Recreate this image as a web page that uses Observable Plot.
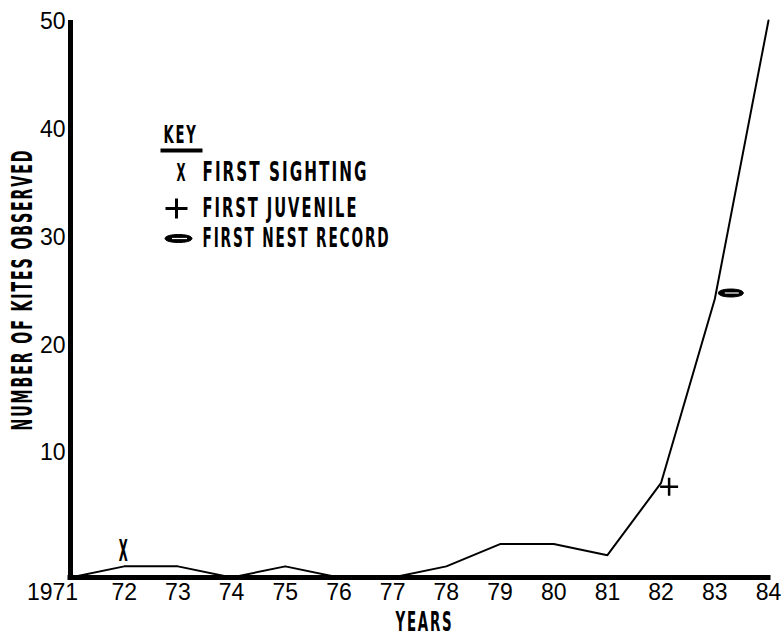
<!DOCTYPE html>
<html><head><meta charset="utf-8">
<script src="https://cdn.jsdelivr.net/npm/d3@7"></script>
<script src="https://cdn.jsdelivr.net/npm/@observablehq/plot@0.6"></script>
<style>
html,body{margin:0;padding:0;background:#fff;}
svg{display:block;}
</style></head><body><div id="chart"></div>
<script>
// ---- data ----
const years = [1971,1972,1973,1974,1975,1976,1977,1978,1979,1980,1981,1982,1983,1984];
const kites = [0,1,1,0,1,0,0,1,3,3,2,8.5,25,50];
const xTickLabels = ["1971","72","73","74","75","76","77","78","79","80","81","82","83","84"];
const yTicks = [10,20,30,40,50];
const keyLabels = ["FIRST SIGHTING","FIRST JUVENILE","FIRST NEST RECORD"];
const eventYears = {sighting:1972, juvenile:1982, nest:1983};
const yTitle = "NUMBER OF KITES OBSERVED";
const xTitle = "YEARS";
const keyTitle = "KEY";

const data = years.map((year,i)=>({year, kites:kites[i], label:xTickLabels[i]}));
const at = y => data.filter(d=>d.year===y);

// ---- custom symbols ----
const plusSym = (w,h)=>({draw(ctx){ctx.moveTo(-w/2,0);ctx.lineTo(w/2,0);ctx.moveTo(0,-h/2);ctx.lineTo(0,h/2);}});
const ovalSym = (w,h)=>({draw(ctx){const k=h/2*1.33;ctx.moveTo(-w/2,0);ctx.bezierCurveTo(-w/2,-k,w/2,-k,w/2,0);ctx.bezierCurveTo(w/2,k,-w/2,k,-w/2,0);ctx.closePath();}});
const barSym = (w,h)=>({draw(ctx){ctx.rect(-w/2,-h/2,w,h);}});

const cond = {fontFamily:"'Liberation Sans Narrow','DejaVu Sans Condensed','Liberation Sans',sans-serif", fontWeight:"bold", fill:"black", textAnchor:"start"};
const num = {fontFamily:"'Liberation Sans',Arial,sans-serif", fill:"black"};

// widths (px) the condensed lettering is fitted to
const fitWidths = {"KEY":34, "FIRST SIGHTING":166, "FIRST JUVENILE":156, "FIRST NEST RECORD":188, "YEARS":58, "NUMBER OF KITES OBSERVED":282, "X":9};
const keyRowDy = [152, 188, 218];

const chart = Plot.plot({
  width:781, height:637,
  marginLeft:70, marginRight:13, marginTop:20, marginBottom:60,
  x:{domain:[1971,1984], axis:null},
  y:{domain:[0,50], axis:null},
  marks:[
    // data line
    Plot.line(data,{x:"year", y:"kites", stroke:"black", strokeWidth:2, strokeLinejoin:"round"}),
    // axes lines
    Plot.ruleY([0],{stroke:"black", strokeWidth:5, strokeLinecap:"square"}),
    Plot.ruleX([1971],{stroke:"black", strokeWidth:5}),
    // x tick labels
    Plot.text(data.filter(d=>d.year!==1971),{x:"year", y:()=>0, text:"label", dy:15.5, lineAnchor:"middle", fontSize:23, ...num}),
    Plot.text(data.filter(d=>d.year===1971),{x:"year", y:()=>0, text:"label", dy:15.5, dx:-18, lineAnchor:"middle", fontSize:23, ...num}),
    // y tick labels (hand-lettered, drifting slightly above their ticks toward the bottom)
    ...yTicks.map(v => Plot.text([v],{x:()=>1971, y:d=>d, text:d=>String(d), textAnchor:"end", dx:-5, dy:-13 + (v-10)*0.35, lineAnchor:"middle", fontSize:23, ...num})),
    // axis titles
    Plot.text([xTitle],{frameAnchor:"bottom", text:d=>d, dx:-24, dy:44.4, lineAnchor:"middle", fontSize:27, ...cond}),
    Plot.text([yTitle],{frameAnchor:"left", text:d=>d, rotate:-90, dx:-47, dy:131.5, lineAnchor:"middle", fontSize:28, ...cond}),
    // event markers on line
    Plot.text(at(eventYears.sighting),{x:"year", y:"kites", text:()=>"X", dx:-5.5, dy:-15, lineAnchor:"middle", fontSize:31, ...cond}),
    Plot.dot(at(eventYears.juvenile),{x:"year", y:"kites", symbol:plusSym(18,18), r:5, dx:8, dy:4, fill:"none", stroke:"black", strokeWidth:2.5}),
    Plot.dot(at(eventYears.nest),{x:"year", y:"kites", symbol:ovalSym(25,8), r:5, dx:16, dy:-6, fill:"black", stroke:"black", strokeWidth:1}),
    Plot.dot(at(eventYears.nest),{x:"year", y:"kites", symbol:barSym(14,1.2), r:5, dx:17, dy:-6, fill:"white", stroke:"none"}),
    // key
    Plot.text([keyTitle],{frameAnchor:"top-left", text:d=>d, dx:93, dy:114, lineAnchor:"middle", fontSize:25, ...cond}),
    Plot.dot([0],{frameAnchor:"top-left", symbol:barSym(42,4), r:5, dx:111, dy:130, fill:"black", stroke:"none"}),
    Plot.text(["X"],{frameAnchor:"top-left", text:d=>d, dx:106, dy:152, lineAnchor:"middle", fontSize:25, ...cond}),
    Plot.dot([0],{frameAnchor:"top-left", symbol:plusSym(22,20), r:5, dx:106, dy:188, fill:"none", stroke:"black", strokeWidth:3}),
    Plot.dot([0],{frameAnchor:"top-left", symbol:ovalSym(27,8), r:5, dx:108, dy:218, fill:"black", stroke:"black", strokeWidth:1}),
    Plot.dot([0],{frameAnchor:"top-left", symbol:barSym(15,1.2), r:5, dx:109, dy:218, fill:"white", stroke:"none"}),
    ...keyLabels.map((lab,i) => Plot.text([lab],{frameAnchor:"top-left", text:d=>d, dx:132, dy:keyRowDy[i], lineAnchor:"middle", fontSize:26, ...cond})),
  ]
});
document.getElementById("chart").append(chart);

// squeeze the condensed hand lettering horizontally to its measured widths
chart.querySelectorAll("text").forEach(t => {
  const s = t.textContent;
  const w = fitWidths[s];
  if (w === undefined) return;
  t.style.letterSpacing = s.length > 1 ? "0.12em" : "0";
  const nat = t.getComputedTextLength();
  if (!(nat > 0)) return;
  const k = w / nat;
  const tr = t.getAttribute("transform");
  if (tr) {
    t.setAttribute("transform", `${tr} scale(${k},1)`);
  } else {
    const x = +t.getAttribute("x") || 0, y = +t.getAttribute("y") || 0;
    t.removeAttribute("x"); t.removeAttribute("y");
    t.setAttribute("transform", `translate(${x},${y}) scale(${k},1)`);
  }
});
</script></body></html>
